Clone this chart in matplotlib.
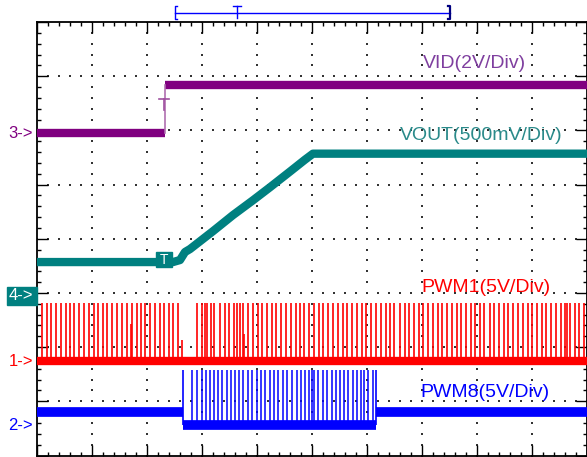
import matplotlib.pyplot as plt
from matplotlib.patches import Rectangle
import numpy as np

# all levels in screen divisions: time 0..10, amplitude 0..8 (bottom -> top)
vid_step = 2.327
vid_low, vid_high = 5.95, 6.84

vout_t = [0.0, 2.473, 2.60, 2.691, 2.782, 3.20, 3.564, 3.927, 4.236, 4.60,
          4.873, 5.018, 10.0]
vout_v = [3.57, 3.57, 3.607, 3.755, 3.81, 4.14, 4.437, 4.71, 4.95, 5.24,
          5.46, 5.57, 5.57]

pwm1_base, pwm1_top = 1.74, 2.81
pwm1_pulses = [0.096, 0.176, 0.255, 0.340, 0.431, 0.522, 0.600, 0.678, 0.769, 0.855,
               0.945, 1.036, 1.115, 1.195, 1.278, 1.369, 1.455, 1.540, 1.631, 1.733,
               1.813, 1.885, 1.964, 2.055, 2.145, 2.236, 2.315, 2.400, 2.478, 2.569,
               2.904, 3.005, 3.055, 3.096, 3.158, 3.227, 3.327, 3.418, 3.496, 3.582,
               3.636, 3.691, 3.751, 3.842, 3.922, 4.013, 4.096, 4.176, 4.267, 4.345,
               4.431, 4.527, 4.618, 4.704, 4.782, 4.860, 4.951, 5.042, 5.127, 5.205,
               5.296, 5.387, 5.467, 5.558, 5.642, 5.722, 5.813, 5.904, 5.982, 6.073,
               6.164, 6.249, 6.340, 6.418, 6.496, 6.600, 6.691, 6.769, 6.855, 6.945,
               7.024, 7.115, 7.195, 7.285, 7.369, 7.460, 7.540, 7.631, 7.709, 7.800,
               7.885, 7.964, 8.055, 8.133, 8.236, 8.315, 8.400, 8.491, 8.569, 8.660,
               8.740, 8.831, 8.922, 9.005, 9.085, 9.176, 9.255, 9.345, 9.436, 9.522,
               9.600, 9.642, 9.691, 9.782, 9.860, 9.951]
pwm1_short_t = [1.704, 2.642, 3.765]
pwm1_short_top = [2.43, 2.13, 2.24]

pwm8_high, pwm8_low, pwm8_top = 0.80, 0.56, 1.58
pwm8_on, pwm8_off = 2.660, 6.164
pwm8_pulses = [2.813, 2.904, 2.995, 3.067, 3.145, 3.218, 3.296, 3.369, 3.449, 3.527,
               3.600, 3.678, 3.751, 3.842, 3.915, 3.995, 4.073, 4.145, 4.236, 4.309,
               4.387, 4.467, 4.540, 4.631, 4.722, 4.795, 4.873, 4.951, 4.995, 5.036,
               5.115, 5.205, 5.278, 5.358, 5.431, 5.509, 5.587, 5.660, 5.740, 5.813,
               5.891, 5.945, 6.024, 6.104]

labels = ['VID(2V/Div)', 'VOUT(500mV/Div)', 'PWM1(5V/Div)', 'PWM8(5V/Div)']
markers = ['3->', '4->', '1->', '2->']

# horizontal position cursor at top
win_start, win_end, trig_t = 2.509, 7.509, 3.636

purple, teal, red, blue = '#800080', '#008080', '#ff0000', '#0000ff'
font = 'Liberation Sans'

fig = plt.figure(figsize=(5.87, 4.57), dpi=100)
ax = fig.add_axes([37 / 587, 1.5 / 457, 550 / 587, 433.5 / 457])
ax.set_xlim(0, 10)
ax.set_ylim(0, 8)

# graticule dots
dx, dy = [], []
for j in range(1, 8):
    for i in range(51):
        dx.append(i * 0.2); dy.append(j)
for i in range(1, 10):
    for j in range(41):
        dx.append(i); dy.append(j * 0.2)
ax.scatter(dx, dy, s=1.6, marker='s', color='#333333', linewidths=0, zorder=1)

ax.set_xticks(np.arange(0, 11, 1))
ax.set_xticks(np.arange(0, 10.01, 0.2), minor=True)
ax.set_yticks(np.arange(0, 9, 1))
ax.set_yticks(np.arange(0, 8.01, 0.2), minor=True)
ax.tick_params(which='both', direction='in', top=True, right=True,
               labelbottom=False, labelleft=False, color='black', width=1.0)
ax.tick_params(which='major', length=8)
ax.tick_params(which='minor', length=3.2)
for sp in ax.spines.values():
    sp.set_linewidth(1.3)

# VID
ax.plot([0, vid_step], [vid_low, vid_low], color=purple, lw=6, solid_capstyle='butt', zorder=3)
ax.plot([vid_step, 10], [vid_high, vid_high], color=purple, lw=6, solid_capstyle='butt', zorder=3)
ax.plot([vid_step, vid_step], [vid_low, vid_high], color='#b070b0', lw=1.2, zorder=3)

# VOUT
ax.plot(vout_t, vout_v, color=teal, lw=6, zorder=3)

# PWM1
ax.plot([0, 10], [pwm1_base, pwm1_base], color=red, lw=6, solid_capstyle='butt', zorder=3)
ax.vlines(pwm1_pulses, pwm1_base, pwm1_top, color=red, lw=1.2, zorder=3)
ax.vlines(pwm1_short_t, pwm1_base, pwm1_short_top, color=red, lw=1.2, zorder=3)

# PWM8
ax.plot([0, pwm8_on], [pwm8_high, pwm8_high], color=blue, lw=7, solid_capstyle='butt', zorder=3)
ax.plot([pwm8_on, pwm8_off], [pwm8_low, pwm8_low], color=blue, lw=7, solid_capstyle='butt', zorder=3)
ax.plot([pwm8_off, 10], [pwm8_high, pwm8_high], color=blue, lw=7, solid_capstyle='butt', zorder=3)
ax.vlines([pwm8_on, pwm8_off], pwm8_low, pwm8_top, color=blue, lw=1.2, zorder=3)
ax.vlines(pwm8_pulses, pwm8_low, pwm8_top, color=blue, lw=1.1, zorder=3)

# channel labels
ax.text(7.018, 7.15, labels[0], color='#7f3f9f', fontsize=14, family=font, va='baseline')
ax.text(6.60, 5.82, labels[1], color='#2a8a8a', fontsize=14, family=font, va='baseline')
ax.text(6.995, 3.02, labels[2], color=red, fontsize=14, family=font, va='baseline')
ax.text(6.964, 1.085, labels[3], color=blue, fontsize=14, family=font, va='baseline')

# ground markers on the left
ax.text(-0.07, vid_low, markers[0], color=purple, fontsize=12, family=font,
        ha='right', va='center', clip_on=False)
ax.add_patch(Rectangle((-0.545, 2.78), 0.545, 0.33, color=teal, clip_on=False, zorder=4))
ax.text(-0.29, 2.945, markers[1], color='white', fontsize=12, family=font,
        ha='center', va='center', clip_on=False, zorder=5)
ax.text(-0.07, pwm1_base, markers[2], color=red, fontsize=12, family=font,
        ha='right', va='center', clip_on=False)
ax.text(-0.07, pwm8_low, markers[3], color=blue, fontsize=12, family=font,
        ha='right', va='center', clip_on=False)

# trigger markers
ax.plot([2.218, 2.40], [6.58, 6.58], color='#a050a0', lw=1.2, zorder=4)
ax.plot([2.309, 2.309], [6.58, 6.38], color='#a050a0', lw=1.2, zorder=4)
ax.add_patch(Rectangle((2.164, 3.478), 0.291, 0.277, color=teal, zorder=4))
ax.text(2.31, 3.615, 'T', color='white', fontsize=10, family=font,
        ha='center', va='center', zorder=5)

# top cursor bar
ytop = 8.17
ax.plot([win_start, win_end], [ytop, ytop], color=blue, lw=1.0, clip_on=False)
ax.plot([win_start + 0.04, win_start, win_start, win_start + 0.04],
        [8.30, 8.30, 8.06, 8.06], color=blue, lw=1.0, clip_on=False)
ax.plot([trig_t - 0.07, trig_t + 0.07], [8.29, 8.29], color=blue, lw=1.0, clip_on=False)
ax.plot([trig_t, trig_t], [8.29, 8.08], color=blue, lw=1.0, clip_on=False)
ax.plot([win_end - 0.03, win_end, win_end, win_end - 0.03],
        [8.30, 8.30, 8.06, 8.06], color='#000080', lw=1.6, clip_on=False)

fig.savefig('out.png', dpi=100)
